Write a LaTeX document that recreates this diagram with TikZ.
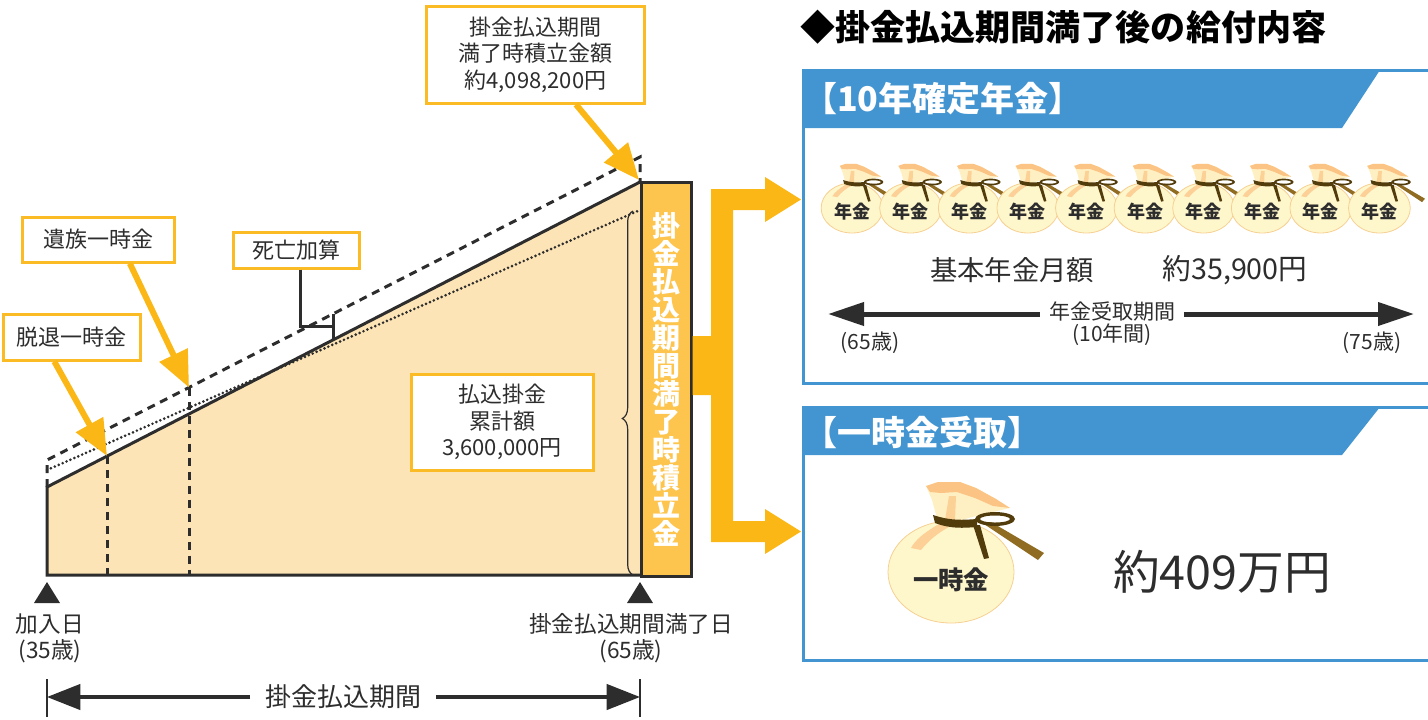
\documentclass[tikz,border=0pt]{standalone}
\usepackage{fontspec}
\setmainfont{Noto Sans CJK JP}
\usetikzlibrary{arrows.meta,decorations.pathreplacing}

\definecolor{fillc}{RGB}{253,228,182}
\definecolor{barc}{RGB}{253,196,78}
\definecolor{yel}{RGB}{251,183,22}
\definecolor{boxc}{RGB}{250,187,36}
\definecolor{bluec}{RGB}{67,149,209}
\definecolor{txt}{RGB}{45,45,45}
\definecolor{bagc}{RGB}{255,247,204}
\definecolor{bagline}{RGB}{246,208,146}
\definecolor{ruffc}{RGB}{255,240,195}
\definecolor{peach}{RGB}{251,196,132}
\definecolor{rib}{RGB}{82,60,12}
\definecolor{ribl}{RGB}{143,108,33}

\tikzset{
  moneybag/.pic={
    \begin{scope}[yscale=-1]
    % body
    \fill[bagc] (0,0) ellipse [x radius=63,y radius=51];
    \draw[bagline,line width=0.6pt] (0,0) ellipse [x radius=63,y radius=51];
    \fill[peach,opacity=0.75] (-12,-48) .. controls (-26,-40) and (-36,-32) .. (-40,-24) -- (-30,-22) .. controls (-22,-32) and (-12,-40) .. (0,-46) -- cycle;
    % top of the bag
    \fill[ruffc] (-13,-50) -- (-19,-72) -- (-25,-86) -- (-13,-90) -- (9,-90) -- (25,-84) -- (45,-73) -- (59,-64) -- (21,-55) -- (5,-50) -- cycle;
    \fill[peach] (-25,-86) -- (-13,-90) -- (9,-90) -- (25,-84) -- (45,-73) -- (59,-64) -- (42,-66) -- (24,-74) -- (6,-80) -- (-10,-79) -- (-21,-80) -- cycle;
    \fill[peach,opacity=0.7] (-6,-52) -- (-2,-76) -- (5,-76) -- (4,-52) -- cycle;
    % ribbon
    \fill[ribl] (30,-50) -- (40,-50) -- (93,-19) -- (87,-12) -- cycle;
    \fill[rib] (-18,-57) .. controls (0,-51) and (12,-52) .. (26,-53) -- (26,-45) .. controls (12,-44) and (0,-43) .. (-16,-49) -- cycle;
    \fill[rib,even odd rule] (44,-53) ellipse [x radius=20,y radius=7] (44,-53) ellipse [x radius=15,y radius=3.5];
    \fill[rib] (22,-47) -- (29,-47) -- (38,-14) -- (33,-13) -- cycle;
    \end{scope}
  }
}

\begin{document}
\begin{tikzpicture}[x=0.75pt,y=0.75pt,yscale=-1,xscale=1,
  lbl/.style={draw=boxc,line width=2.25pt,fill=white,text=txt,align=center,inner sep=0pt,font=\fontsize{16.5}{20}\selectfont},
  yarrow/.style={draw=yel,line width=4.5pt,-{Triangle[length=27pt,width=22.5pt]}},
  lineblk/.style={draw=txt,line width=2.25pt},
  dashblk/.style={draw=txt,line width=2.25pt,dash pattern=on 6pt off 4.5pt},
  dotblk/.style={draw=txt,line width=2.2pt,line cap=round,dash pattern=on 0pt off 3.2pt},
  ticklbl/.style={text=txt,align=center,inner sep=0pt,font=\fontsize{17}{19.5}\selectfont},
  dimlbl/.style={text=txt,inner xsep=11pt,inner ysep=0pt,font=\fontsize{19.5}{22}\selectfont},
  dimarrow/.style={draw=txt,line width=2.5pt,-{Triangle[length=25pt,width=19pt]}},
  penlbl/.style={text=txt,inner xsep=6.5pt,inner ysep=0pt,font=\fontsize{15.75}{18}\selectfont},
  penarrow/.style={draw=txt,line width=3.75pt,-{Triangle[length=27pt,width=17pt]}},
  hdr/.style={text=white,anchor=west,inner sep=0pt,font=\fontsize{25.5}{28}\selectfont\bfseries},
  baglbl/.style={text=txt,inner sep=0pt,font=\fontsize{13.5}{15}\selectfont\bfseries}
]
\useasboundingbox (0,0) rectangle (1428,719);

%Chart points
\coordinate (O) at (47,575);
\coordinate (E) at (640,575);
\coordinate (S0) at (47,487);
\coordinate (S1) at (640,182);
\coordinate (D0) at (47,460);
\coordinate (D1) at (640,157);
\coordinate (T0) at (47,470);
\coordinate (T1) at (640,210);
\coordinate (Q1) at (107,456);
\coordinate (Q2) at (189,387.5);
\coordinate (M0) at (333,314);
\coordinate (M1) at (333,326);
\coordinate (M2) at (333,340);

%Accumulated area
\fill[fillc] (O) -- (S0) -- (S1) -- (E) -- cycle;
\draw[dotblk] (T0) -- (T1);
\draw[dashblk] (S0) -- (D0) -- (D1) -- (S1);
\draw[dashblk] (Q1) -- (Q1 |- O);
\draw[dashblk] (Q2) -- (Q2 |- O);
\draw[lineblk] (E) -- (O) -- (S0) -- (S1);
%Brace
\draw[txt,line width=0.9pt,decorate,decoration={brace,amplitude=8pt,aspect=0.43}] (633,575) -- (633,211);

%Bar
\node[draw=txt,line width=2.25pt,fill=barc,minimum width=37.5pt,minimum height=296pt,inner sep=0pt,text=white,align=center,font=\fontsize{21}{21}\selectfont\bfseries] (bar) at (666,379.5) {掛\\金\\払\\込\\期\\間\\満\\了\\時\\積\\立\\金};

%Yellow bracket arrow
\fill[yel] (bar.east |- 0,336) -- (711,336) -- (711,189) -- (765,189) -- (765,177) -- (801,199.5) -- (765,222) -- (765,210) -- (733,210) -- (733,521) -- (765,521) -- (765,509) -- (801,531.5) -- (765,554) -- (765,542) -- (711,542) -- (711,395) -- (bar.east |- 0,395) -- cycle;

% Text Node
\node[lbl,minimum width=163pt,minimum height=72.75pt] (manki) at (535.5,54.5) {掛金払込期間\\満了時積立金額\\約4,098,200円};
% Text Node
\node[lbl,minimum width=114pt,minimum height=33.75pt] (izoku) at (98,239.5) {遺族一時金};
% Text Node
\node[lbl,minimum width=102.75pt,minimum height=34.5pt] (taikai) at (71.5,337) {脱退一時金};
% Text Node
\node[lbl,minimum width=94.5pt,minimum height=27pt] (shibo) at (296,250) {死亡加算};
% Text Node
\node[lbl,minimum width=136.5pt,minimum height=72pt] (ruikei) at (502,422) {払込掛金\\累計額\\3,600,000円};

%Label arrows
\draw[yarrow] (manki.-51) -- (639,180);
\draw[yarrow] (izoku.-37) -- (Q2);
\draw[yarrow] (taikai.-125) -- (Q1);
\draw[lineblk] (shibo.-78) |- (M1);
\draw[lineblk] (M0) -- (M2);

%Time marks
\fill[txt] (47,582) -- (60,603) -- (34,603) -- cycle;
\fill[txt] (640,582) -- (653,603) -- (627,603) -- cycle;
\node[ticklbl] (kanyu) at (50,638) {加入日\\(35歳)};
\node[ticklbl] (manryo) at (631,638) {掛金払込期間満了日\\(65歳)};

%Payment period
\coordinate (k0) at (47,697);
\coordinate (k1) at (640,697);
\draw[txt,line width=1.2pt] (47,679) -- (47,717);
\draw[txt,line width=1.2pt] (640,679) -- (640,717);
\node[dimlbl] (kikan) at (343,697) {掛金払込期間};
\draw[dimarrow] (kikan.west |- k0) -- (k0);
\draw[dimarrow] (kikan.east |- k1) -- (k1);

%Title
\node[anchor=west,inner sep=0pt,text=black,font=\fontsize{26.3}{30}\selectfont\bfseries] (title) at (800,27) {◆掛金払込期間満了後の給付内容};

%Box 1
\draw[bluec,line width=2.25pt] (803,70) rectangle (1440,383);
\fill[bluec] (803,70) -- (1380,70) -- (1342,128) -- (803,128) -- cycle;
\node[hdr] (hdr1) at (803,99) {【10年確定年金】};
\foreach \i in {0,...,9} {
  \pic[scale=0.49] at ({852+58.6*\i},208) {moneybag};
  \node[baglbl] (bag\i) at ({852+58.6*\i},212) {年金};
}
\node[text=txt,inner sep=0pt,font=\fontsize{20.5}{24}\selectfont] (getsugaku) at (1012,270) {基本年金月額};
\node[text=txt,inner sep=0pt,font=\fontsize{21.5}{24}\selectfont] (kingaku) at (1235,270) {約35,900円};
\coordinate (p65) at (828,314);
\coordinate (p75) at (1414,314);
\node[penlbl] (uketori) at (1112,312) {年金受取期間};
\draw[penarrow] (uketori.west |- p65) -- (p65);
\draw[penarrow] (uketori.east |- p75) -- (p75);
\node[penlbl] (nenkan) at (1112,335) {(10年間)};
\node[penlbl] (age65) at (870,343) {(65歳)};
\node[penlbl] (age75) at (1372,343) {(75歳)};

%Box 2
\draw[bluec,line width=2.25pt] (803,407) rectangle (1440,660);
\fill[bluec] (803,407) -- (1380,407) -- (1342,455) -- (803,455) -- cycle;
\node[hdr] (hdr2) at (803,432) {【一時金受取】};
\pic at (951,572) {moneybag};
\node[baglbl,font=\fontsize{19}{21}\selectfont\bfseries] (ichijibag) at (951,580) {一時金};
\node[text=txt,inner sep=0pt,font=\fontsize{35}{38}\selectfont] (ichijikin) at (1222,572) {約409万円};

\end{tikzpicture}
\end{document}
